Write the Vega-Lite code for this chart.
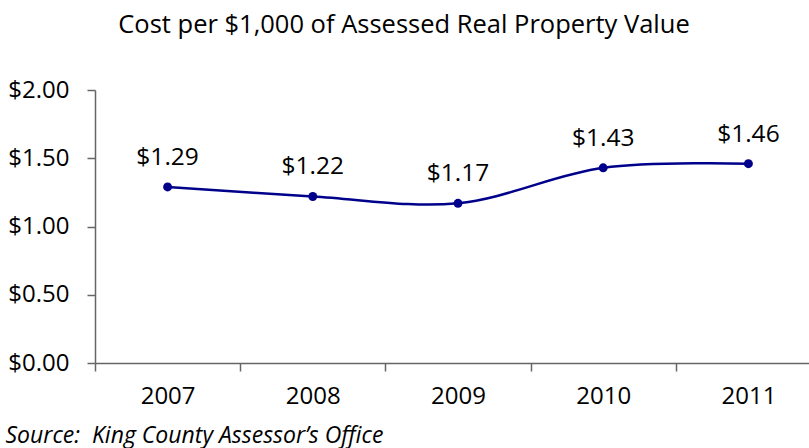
{
  "$schema": "https://vega.github.io/schema/vega-lite/v6.json",
  "autosize": {"type": "none"},
  "width": 726,
  "height": 273,
  "padding": {"left": 95, "top": 90, "right": -12, "bottom": 85},
  "background": "white",
  "config": {
    "view": {"stroke": null},
    "font": "Open Sans",
    "axis": {"grid": false}
  },
  "title": {
    "text": "Cost per $1,000 of Assessed Real Property Value",
    "font": "Open Sans",
    "fontSize": 25.5,
    "fontWeight": "normal",
    "color": "#000000",
    "anchor": "middle",
    "dx": -54,
    "offset": 40
  },
  "data": {
    "values": [
      {"year": "2007", "cost": 1.29, "label": "$1.29"},
      {"year": "2008", "cost": 1.22, "label": "$1.22"},
      {"year": "2009", "cost": 1.17, "label": "$1.17"},
      {"year": "2010", "cost": 1.43, "label": "$1.43"},
      {"year": "2011", "cost": 1.46, "label": "$1.46"}
    ]
  },
  "encoding": {
    "x": {
      "field": "year",
      "type": "ordinal",
      "scale": {"paddingInner": 0, "paddingOuter": 0},
      "axis": {
        "title": "Source:\u00a0 King County Assessor’s Office",
        "titleFont": "Open Sans",
        "titleFontSize": 23,
        "titleFontStyle": "italic",
        "titleFontWeight": "normal",
        "titleColor": "#000000",
        "titleAnchor": "start",
        "titleAlign": "left",
        "titleBaseline": "alphabetic",
        "titleX": -90,
        "titleY": 79,
        "labelAngle": 0,
        "labelFontSize": 24,
        "labelColor": "#000000",
        "labelPadding": 13,
        "tickBand": "extent",
        "tickSize": 8,
        "tickColor": "#666666",
        "domainColor": "#666666",
        "domainWidth": 1.5,
        "tickWidth": 1.5
      }
    },
    "y": {
      "field": "cost",
      "type": "quantitative",
      "scale": {"domain": [0, 2]},
      "axis": {
        "title": null,
        "values": [0, 0.5, 1, 1.5, 2],
        "format": "$.2f",
        "labelFontSize": 24,
        "labelColor": "#000000",
        "labelPadding": 18,
        "tickSize": 8,
        "tickColor": "#666666",
        "domainColor": "#666666",
        "domainWidth": 1.5,
        "tickWidth": 1.5
      }
    }
  },
  "layer": [
    {
      "mark": {"type": "line", "color": "#00008B", "strokeWidth": 2.5, "interpolate": "catmull-rom"}
    },
    {
      "mark": {"type": "circle", "color": "#00008B", "opacity": 1, "size": 80}
    },
    {
      "mark": {"type": "text", "fontSize": 24.5, "color": "#000000", "baseline": "alphabetic", "dy": -22},
      "encoding": {"text": {"field": "label"}}
    }
  ]
}
